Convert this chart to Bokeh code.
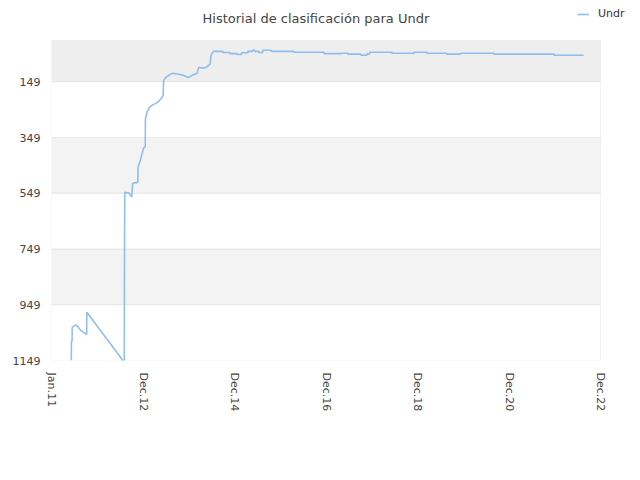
import pandas as pd
from bokeh.plotting import figure
from bokeh.models import (Range1d, FixedTicker, BoxAnnotation, Legend, LegendItem,
                          Label)
from bokeh.embed import file_html
from bokeh.resources import INLINE

# ---- data -------------------------------------------------------------
dates = [
    "2011-05-08", "2011-05-09", "2011-05-14", "2011-05-15", "2011-05-25",
    "2011-06-10", "2011-06-25", "2011-07-20", "2011-09-08", "2011-09-09",
    "2012-06-23", "2012-07-04", "2012-07-05", "2012-07-08", "2012-08-10",
    "2012-09-01", "2012-09-09", "2012-10-20", "2012-10-22", "2012-11-08",
    "2012-11-19", "2012-12-05", "2012-12-18", "2012-12-20", "2013-01-01",
    "2013-01-20", "2013-02-16", "2013-03-26", "2013-04-22", "2013-05-10",
    "2013-05-14", "2013-06-01", "2013-06-27", "2013-07-24", "2013-09-03",
    "2013-10-12", "2013-11-27", "2014-01-01", "2014-02-05", "2014-02-18",
    "2014-04-02", "2014-04-29", "2014-05-20", "2014-05-25", "2014-06-03",
    "2014-06-16", "2014-08-30", "2014-09-01", "2014-10-24", "2014-10-27",
    "2014-12-20", "2014-12-22", "2015-01-25", "2015-01-27", "2015-03-16",
    "2015-03-18", "2015-04-25", "2015-04-27", "2015-05-11", "2015-05-13",
    "2015-06-12", "2015-06-14", "2015-07-14", "2015-07-16", "2015-09-17",
    "2015-09-24", "2016-03-18", "2016-03-20", "2016-11-14", "2016-11-16",
    "2017-03-28", "2017-03-30", "2017-05-23", "2017-05-25", "2017-09-05",
    "2017-09-07", "2017-10-22", "2017-10-24", "2017-11-15", "2017-11-17",
    "2018-05-10", "2018-05-12", "2018-11-02", "2018-11-04", "2019-02-14",
    "2019-02-16", "2019-07-22", "2019-07-24", "2019-11-04", "2019-11-13",
    "2020-08-01", "2020-08-03", "2021-11-25", "2021-11-27", "2022-07-20",
]
ranks = [
    1149, 1081, 1081, 1032, 1026,
    1022, 1025, 1040, 1056, 976,
    1149, 1149, 880, 546, 548,
    563, 513, 510, 456, 432,
    414, 387, 382, 283, 259,
    241, 232, 223, 211, 199,
    145, 134, 125, 119, 121,
    125, 134, 125, 119, 98,
    100, 94, 86, 62, 48,
    40, 40, 44, 44, 48,
    48, 51, 51, 45, 45,
    40, 40, 36, 36, 40,
    40, 44, 44, 36, 36,
    40, 40, 43, 43, 48,
    48, 47, 47, 50, 50,
    54, 54, 49, 49, 43,
    43, 47, 47, 43, 43,
    47, 47, 50, 50, 47,
    47, 50, 50, 54, 54,
]
series_name = "Undr"
title_text = "Historial de clasificación para Undr"

x_tick_dates = ["2010-12-01", "2012-12-01", "2014-12-01", "2016-12-01",
                "2018-12-01", "2020-12-01", "2022-12-01"]
x_tick_labels = ["Jan.11", "Dec.12", "Dec.14", "Dec.16", "Dec.18", "Dec.20", "Dec.22"]
y_ticks = [149, 349, 549, 749, 949, 1149]
y_top = 1

# ---- layout geometry (pixels) ------------------------------------------
W, H = 632, 472
PLOT_L, PLOT_R, PLOT_T, PLOT_B = 51, 600, 40, 360   # plot box inside canvas

x_dt = pd.to_datetime(dates)
tick_ms = [int(pd.Timestamp(d).value // 10**6) for d in x_tick_dates]
x0, x1 = tick_ms[0], tick_ms[-1]
ms_per_px = (x1 - x0) / (PLOT_R - PLOT_L)
x_end = x1 + ms_per_px * (W - PLOT_R)              # frame reaches canvas edge
y0, y1 = y_ticks[-1], y_top
r_per_px = (y0 - y1) / (PLOT_B - PLOT_T)
y_end = y1 - r_per_px * PLOT_T                     # frame reaches canvas top

FONT = "DejaVu Sans"
GRID = "#d8d8d8"

p = figure(width=W, height=H, x_axis_type="datetime",
           output_backend="svg", toolbar_location=None,
           x_range=Range1d(x0, x_end), y_range=Range1d(y0, y_end),
           min_border_left=PLOT_L, min_border_right=0,
           min_border_top=0, min_border_bottom=H - PLOT_B)
p.background_fill_color = "white"
p.border_fill_color = "white"
p.outline_line_color = None

# plot area: alternating bands (fills first, then outlines = grid + border)
band_edges = [y_top] + y_ticks
for i in range(len(band_edges) - 1):
    if i % 2 == 0:
        p.add_layout(BoxAnnotation(left=x0, right=x1,
                                   top=band_edges[i], bottom=band_edges[i + 1],
                                   fill_color="#eeeeee" if i == 0 else "#f3f3f3",
                                   fill_alpha=1.0, line_alpha=0,
                                   level="underlay"))
for i in range(len(band_edges) - 1):
    p.add_layout(BoxAnnotation(left=x0, right=x1,
                               top=band_edges[i], bottom=band_edges[i + 1],
                               fill_alpha=0, line_color=GRID, line_width=1,
                               level="underlay"))

r = p.line(x_dt, ranks, line_color="#7cb5ec", line_width=1.6, line_alpha=0.85)

# axes
p.xaxis.ticker = FixedTicker(ticks=tick_ms)
p.xaxis.major_label_overrides = {t: lab for t, lab in zip(tick_ms, x_tick_labels)}
p.xaxis.major_label_orientation = "vertical"
p.yaxis.ticker = FixedTicker(ticks=y_ticks)
for ax in (p.xaxis[0], p.yaxis[0]):
    ax.axis_line_color = None
    ax.major_tick_line_color = None
    ax.minor_tick_line_color = None
    ax.major_tick_out = 0
    ax.major_tick_in = 0
    ax.major_label_text_font = FONT
    ax.major_label_text_font_size = "11px"
    ax.major_label_text_color = "#444444"
p.xaxis.major_label_standoff = 12
p.yaxis.major_label_standoff = 11

p.xgrid.grid_line_color = None
p.ygrid.grid_line_color = None

# title (frame-relative screen units: y measured up from frame bottom)
p.add_layout(Label(x=151, y=PLOT_B - 17.5, x_units="screen", y_units="screen",
                   text=title_text, text_align="left", text_baseline="alphabetic",
                   text_font=FONT, text_font_size="13px", text_color="#444444"))

# legend
legend = Legend(items=[LegendItem(label=series_name, renderers=[r])],
                location=(526, PLOT_B - 20), orientation="horizontal",
                glyph_width=12, glyph_height=12, label_height=12,
                label_standoff=9, padding=0, margin=0, spacing=0,
                border_line_alpha=0, background_fill_alpha=0,
                label_text_font=FONT, label_text_font_size="11px",
                label_text_color="#333333")
p.add_layout(legend)

open("out.html", "w").write(file_html(p, INLINE))
